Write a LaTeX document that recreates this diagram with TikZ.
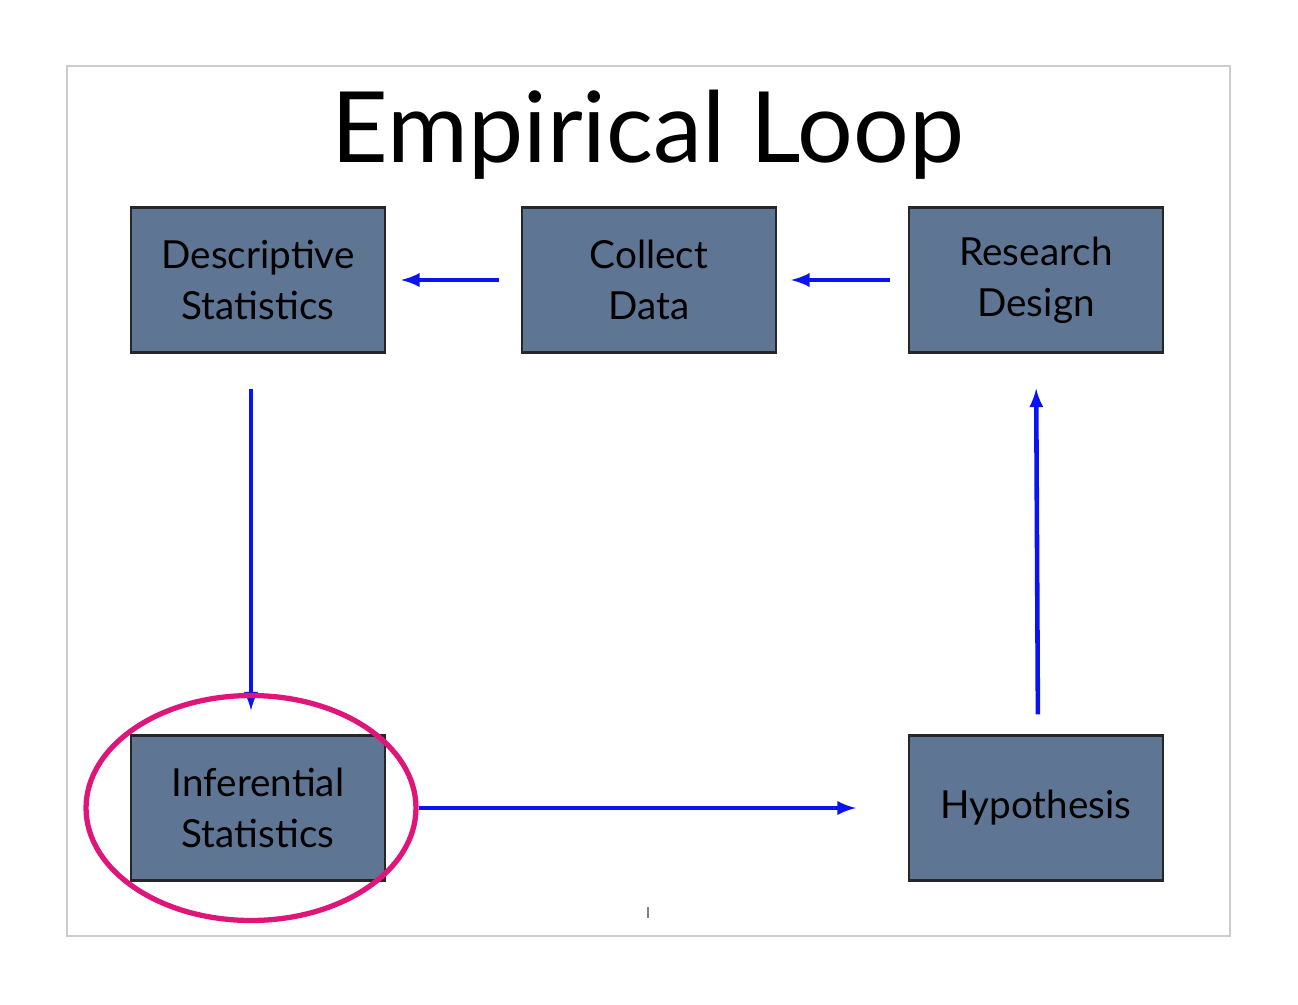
\documentclass[tikz,border=0pt]{standalone}
\usepackage{fontspec}
\setmainfont{Lato}
\usetikzlibrary{shapes.geometric}
\definecolor{slate}{HTML}{5E7594}
\definecolor{loopblue}{HTML}{0A14F0}
\definecolor{ringpink}{HTML}{E0157A}
\tikzset{
	stepbox/.style={draw=black!85, line width=1.2pt, fill=slate, minimum width=5.08cm, minimum height=2.9cm, align=center, font=\fontsize{22}{29}\selectfont},
	flow/.style={-latex, draw=loopblue, line width=2.6pt}
}
\begin{document}
\begin{tikzpicture}[x=0.02cm,y=-0.02cm]
	\useasboundingbox (0,0) rectangle (1298,1004);
	%Slide frame
	\draw [black!20, line width=0.8pt] (67,66) rectangle (1230,936);
	\node (title) at (648,135) {\fontsize{56}{60}\selectfont Empirical Loop};

	%Steps of the loop
	\node [stepbox] (descr) at (258,280) {Descriptive\\Statistics};
	\node [stepbox] (collect) at (649,280) {Collect\\Data};
	\node [stepbox] (design) at (1036,280) {Research\\Design};
	\node [stepbox] (infer) at (258,808) {Inferential\\Statistics};
	\node [stepbox] (hypo) at (1036,808) {Hypothesis};

	%Arrows
	\draw [flow, shorten <=0.44cm, shorten >=0.3cm] (collect.west) -- (descr.east);
	\draw [flow, shorten <=0.36cm, shorten >=0.28cm] (design.west) -- (collect.west-|collect.east);
	\draw [flow, shorten <=0.7cm, shorten >=0.48cm] (descr.south-|251,0) -- (infer.north-|251,0);
	\draw [flow, shorten <=0.66cm, shorten >=1.04cm] (infer.east) -- (hypo.west);
	\draw [flow, shorten <=0.4cm, shorten >=0.7cm] (hypo.north-|1038,0) -- (design.south-|1036,0);

	%Highlight
	\node [ellipse, draw=ringpink, line width=3pt, minimum width=6.6cm, minimum height=4.5cm] (ring) at (251,808) {};
	\node [fill=black!50, inner sep=0pt, minimum width=1.5pt, minimum height=0.22cm] (tick) at (648,912) {};
\end{tikzpicture}
\end{document}
